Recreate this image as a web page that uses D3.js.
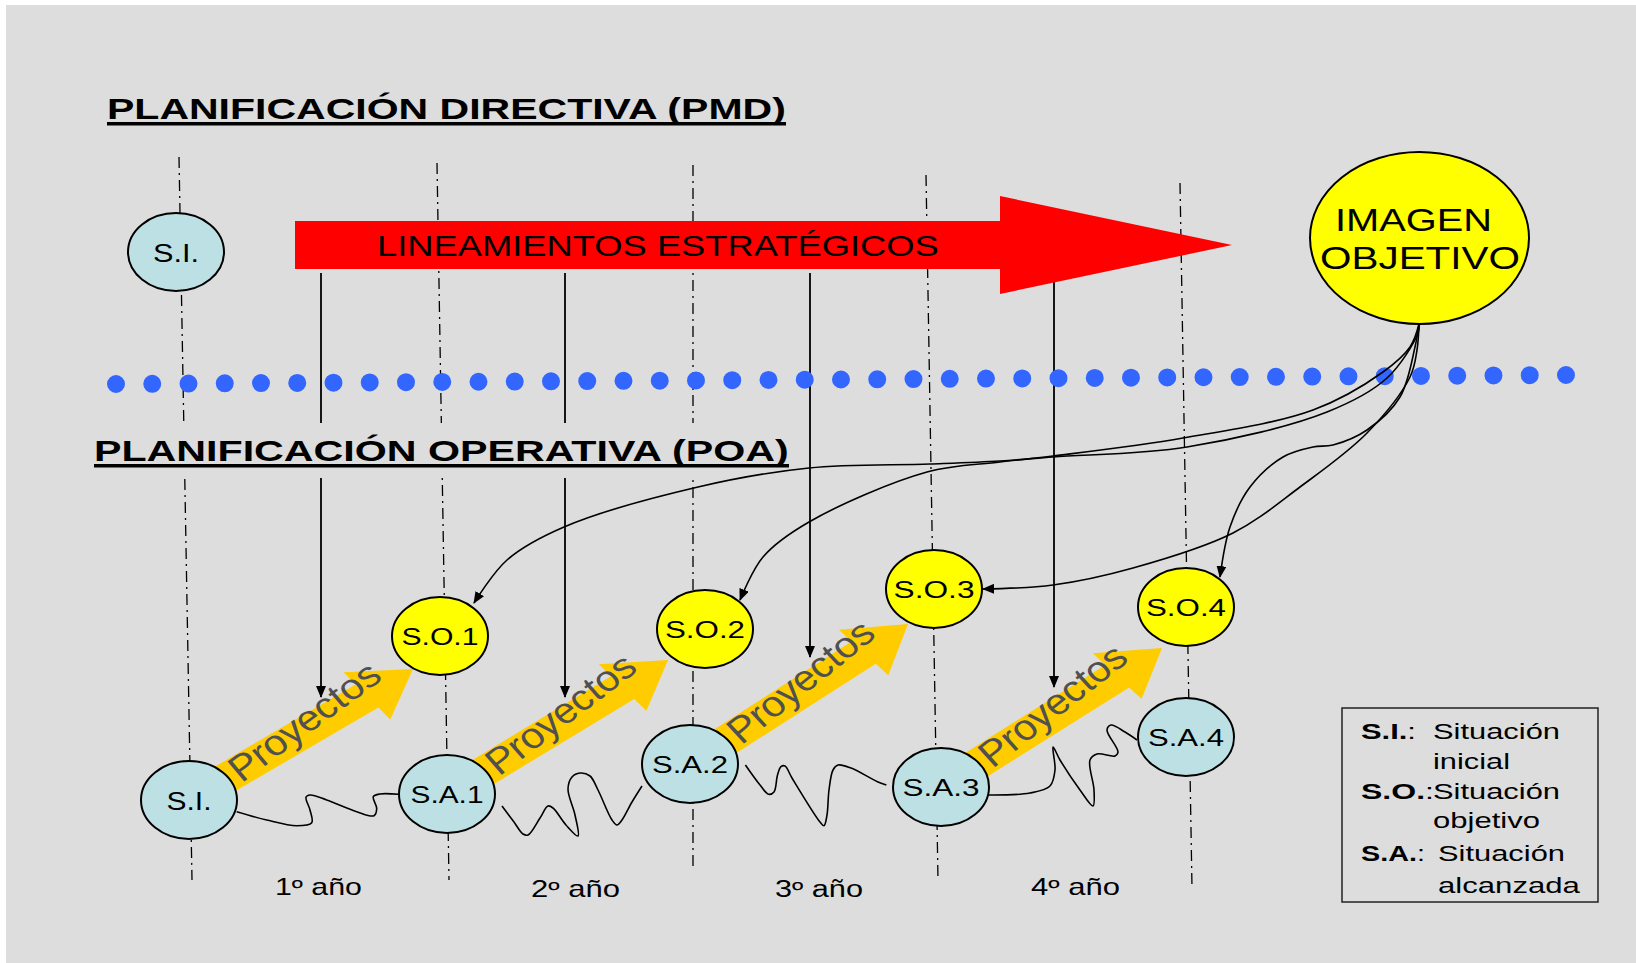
<!DOCTYPE html>
<html>
<head>
<meta charset="utf-8">
<script src="https://cdn.jsdelivr.net/npm/d3@7.9.0/dist/d3.min.js"></script>
<style>
  html, body { margin: 0; padding: 0; background: #fff; }
  svg { display: block; font-family: "Liberation Sans", Arial, sans-serif; }
</style>
</head>
<body>
<svg id="chart" width="1636" height="963"></svg>
<script>
// Texts of the diagram
const titles = ['PLANIFICACIÓN DIRECTIVA (PMD)', 'PLANIFICACIÓN OPERATIVA (POA)'];
const strategyLabel = 'LINEAMIENTOS ESTRATÉGICOS';
const goalLabel = ['IMAGEN', 'OBJETIVO'];
const reachedLabels = ['S.I.', 'S.A.1', 'S.A.2', 'S.A.3', 'S.A.4'];
const objectiveLabels = ['S.O.1', 'S.O.2', 'S.O.3', 'S.O.4'];
const yearLabels = ['1º año', '2º año', '3º año', '4º año'];
const projectLabel = 'Proyectos';
const legendTerms = ['S.I.', 'S.O.', 'S.A.'];
const legendMeaning = [['Situación', 'inicial'], ['Situación', 'objetivo'], ['Situación', 'alcanzada']];

// Layout (pixels of the picture). The slide was stretched sideways by about S.
const S = 1.3;
const topSI = [176, 252];
const reachedPos = [[189, 800], [447, 794], [690, 764], [941, 787], [1186, 737]];
const objectivePos = [[440, 636], [705, 629], [934, 589], [1186, 607]];
const goal = { cx: 1419.5, cy: 238, rx: 109.5, ry: 86 };
const projectTips = [[413, 669], [668, 660], [908, 624], [1162, 648]];
const guideLines = [[179, 157, 192, 880], [437, 163, 449, 880], [693, 165, 693, 870], [926, 175, 938, 880], [1180, 183, 1192, 888]];
const dropX = [321, 565, 810, 1054];
const dropEnd = [697, 697, 657, 687];
const yearPos = [[275, 895, 87], [531, 897, 89], [775, 897, 88], [1031, 895, 89]];

const waves = [
  [[236.7, 811.7], [266.7, 820], [296.7, 825.7], [311.7, 822.7], [310, 810], [306, 797.3], [310, 795], [326.7, 800], [356.7, 811.7], [374, 815.7], [376.7, 808.3], [373.3, 796.7], [380, 794], [398.3, 794.3]],
  [[502, 806], [514, 822], [523, 834], [528, 835], [540, 818], [548, 806], [553, 808], [566, 825], [578, 836], [575, 815], [568, 789], [572, 777], [580, 773], [590, 776], [598, 790], [612, 820], [617, 825], [622, 820], [632, 802], [642, 786]],
  [[745.4, 765], [760, 785], [768.6, 794.3], [774, 792], [777.5, 775], [781, 766.7], [785, 766], [792, 778], [820, 822], [824, 825.7], [827, 815], [829, 790], [833, 770], [838, 765], [851, 768], [878, 782], [886.4, 785]],
  [[989, 795], [1030, 793], [1050, 786], [1055, 770], [1053, 747], [1060, 760], [1080, 790], [1093, 806], [1094, 790], [1090, 760], [1097, 754], [1115, 756], [1118, 752], [1107, 730], [1111, 725], [1125, 732], [1137, 740]]
];

const goalCurves = [
  [[1419, 324], [1418, 333], [1387, 378], [1327, 412], [1187, 447], [1053, 457], [1000, 461], [930, 464], [809, 468], [698, 487], [564, 527], [507, 560], [474, 603]],
  [[1419, 324], [1410, 347], [1383, 372], [1313, 410], [1183, 438], [1053, 456], [1000, 462], [927, 472], [809, 522], [763, 557], [740, 600]],
  [[1419, 324], [1417, 350], [1410, 377], [1367, 433], [1300, 487], [1233, 533], [1133, 568], [1053, 585], [983, 589]],
  [[1419, 324], [1415, 347], [1400, 397], [1367, 430], [1333, 445], [1313, 447], [1283, 457], [1250, 487], [1230, 527], [1220, 577]]
];

const BG = '#dddddd';
const svg = d3.select('#chart');

const defs = svg.append('defs');
defs.append('marker')
  .attr('id', 'head')
  .attr('viewBox', '0 0 12 10')
  .attr('refX', 11).attr('refY', 5)
  .attr('markerWidth', 12).attr('markerHeight', 10)
  .attr('markerUnits', 'userSpaceOnUse')
  .attr('orient', 'auto')
  .append('path').attr('d', 'M0,0L12,5L0,10Z').attr('fill', '#000');

// text fitted to a measured width (the picture is stretched sideways)
function fitText(parent, str, x, y, width, size, opts = {}) {
  const t = parent.append('text')
    .attr('font-size', size)
    .attr('text-anchor', opts.anchor || 'start')
    .attr('font-weight', opts.weight || 'normal')
    .attr('fill', opts.fill || '#000')
    .attr('transform', `translate(${x},${y})`);
  if (opts.html) t.html(str); else t.text(str);
  const w = t.node().getComputedTextLength();
  t.attr('transform', `translate(${x},${y}) scale(${width / w},1)`);
  return t;
}

// background
svg.append('rect').attr('x', 6).attr('y', 5).attr('width', 1630).attr('height', 958).attr('fill', BG);

// dash-dot year separators
guideLines.forEach(([x1, y1, x2, y2]) => {
  svg.append('line')
    .attr('x1', x1).attr('y1', y1).attr('x2', x2).attr('y2', y2)
    .attr('stroke', '#000').attr('stroke-width', 1.3)
    .attr('stroke-dasharray', '11,5,2,5');
});

// arrows dropping from the strategic guidelines
dropX.forEach((x, i) => {
  svg.append('line')
    .attr('x1', x).attr('y1', 273).attr('x2', x).attr('y2', dropEnd[i])
    .attr('stroke', '#000').attr('stroke-width', 1.8)
    .attr('marker-end', 'url(#head)');
});

// box behind the second title hides the lines
svg.append('rect').attr('x', 90).attr('y', 423).attr('width', 700).attr('height', 55).attr('fill', BG);

// red arrow
svg.append('polygon')
  .attr('points', [[295, 221], [1000, 221], [1000, 196], [1232, 245], [1000, 294], [1000, 269], [295, 269]].join(' '))
  .attr('fill', '#ff0000');
fitText(svg, strategyLabel, 377, 256, 562, 29);

// blue dotted border between the two levels
svg.append('line')
  .attr('x1', 116).attr('y1', 384).attr('x2', 1566).attr('y2', 375)
  .attr('stroke', '#3366ff').attr('stroke-width', 18)
  .attr('stroke-linecap', 'round').attr('stroke-dasharray', '0,36.25');

// wavy lines between the reached situations
const waveLine = d3.line().curve(d3.curveCatmullRom.alpha(0.5));
waves.forEach(w => {
  svg.append('path').attr('d', waveLine(w))
    .attr('fill', 'none').attr('stroke', '#000').attr('stroke-width', 1.6);
});

// "Proyectos" arrows
const headLen = 44.5, headHalf = 29.6, shaftHalf = 14.5;
projectTips.forEach((tip, i) => {
  const tail = reachedPos[i];
  const a = [tail[0] / S, tail[1]], b = [tip[0] / S, tip[1]];
  const len = Math.hypot(b[0] - a[0], b[1] - a[1]);
  const d = [(b[0] - a[0]) / len, (b[1] - a[1]) / len];
  const n = [-d[1], d[0]];
  const at = (p, u, v) => [(p[0] + d[0] * u + n[0] * v) * S, p[1] + d[1] * u + n[1] * v];
  const pts = [at(b, 0, 0), at(b, -headLen, headHalf), at(b, -headLen, shaftHalf), at(a, 0, shaftHalf),
               at(a, 0, -shaftHalf), at(b, -headLen, -shaftHalf), at(b, -headLen, -headHalf)];
  svg.append('polygon').attr('points', pts.join(' ')).attr('fill', '#ffcc00');
  const start = at(a, 44, 11);
  const ang = Math.atan2(d[1], d[0]) * 180 / Math.PI - 6.5;
  svg.append('text')
    .attr('transform', `translate(${start[0]},${start[1]}) scale(${S},1) rotate(${ang})`)
    .attr('font-size', 34).attr('font-style', 'italic').attr('fill', '#505050')
    .text(projectLabel);
});

// curves from the goal image to each objective
const curveLine = d3.line().curve(d3.curveCatmullRom.alpha(0.5));
goalCurves.forEach(c => {
  svg.append('path').attr('d', curveLine(c))
    .attr('fill', 'none').attr('stroke', '#000').attr('stroke-width', 1.6)
    .attr('marker-end', 'url(#head)');
});

// situations
function node(cx, cy, fill, label, width, size) {
  svg.append('ellipse').attr('cx', cx).attr('cy', cy).attr('rx', 48).attr('ry', 39)
    .attr('fill', fill).attr('stroke', '#000').attr('stroke-width', 2);
  fitText(svg, label, cx, cy + size * 0.38, width, size, { anchor: 'middle' });
}
const reachedWidths = [45, 73, 76, 77, 76];
const objectiveWidths = [77, 80, 81, 80];
node(topSI[0], topSI[1], '#bce0e3', reachedLabels[0], 46, 26);
reachedPos.forEach((p, i) => node(p[0], p[1], '#bce0e3', reachedLabels[i], reachedWidths[i], i === 0 ? 25 : 24));
objectivePos.forEach((p, i) => node(p[0], p[1], '#ffff00', objectiveLabels[i], objectiveWidths[i], 24));

// goal image
svg.append('ellipse').attr('cx', goal.cx).attr('cy', goal.cy).attr('rx', goal.rx).attr('ry', goal.ry)
  .attr('fill', '#ffff00').attr('stroke', '#000').attr('stroke-width', 2);
fitText(svg, goalLabel[0], 1413.5, 231, 157, 32, { anchor: 'middle' });
fitText(svg, goalLabel[1], 1420, 269, 200, 32, { anchor: 'middle' });

// titles
[[107, 119, 679], [94, 461, 695]].forEach(([x, y, w], i) => {
  fitText(svg, titles[i], x, y, w, 30, { weight: 'bold' });
  svg.append('rect').attr('x', x).attr('y', y + 3).attr('width', w).attr('height', 3.5).attr('fill', '#000');
});

// year labels
yearPos.forEach(([x, y, w], i) => fitText(svg, yearLabels[i], x, y, w, 23));

// legend
svg.append('rect').attr('x', 1342).attr('y', 708).attr('width', 256).attr('height', 194)
  .attr('fill', 'none').attr('stroke', '#222').attr('stroke-width', 1.5);
const legendRows = [[739, 769, 55, 1433], [799, 828, 73, 1433], [861, 893, 64, 1438]];
const meaningWidths = [[127, 77], [127, 107], [127, 142]];
legendRows.forEach(([y1, y2, tw, mx], i) => {
  fitText(svg, `<tspan font-weight="bold">${legendTerms[i]}</tspan>:`, 1361, y1, tw, 22, { html: true });
  fitText(svg, legendMeaning[i][0], mx, y1, meaningWidths[i][0], 22);
  fitText(svg, legendMeaning[i][1], mx, y2, meaningWidths[i][1], 22);
});
</script>
</body>
</html>
